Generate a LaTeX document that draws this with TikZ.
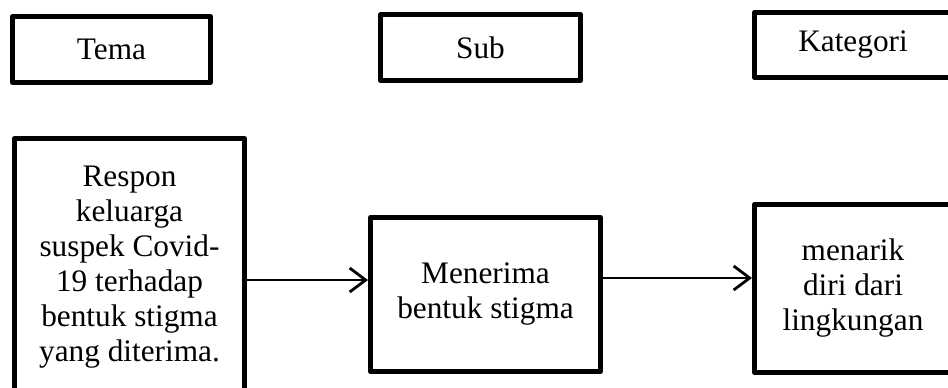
\documentclass[tikz,border=0pt]{standalone}
\usepackage{fontspec}
\setmainfont{Liberation Serif}
\usetikzlibrary{arrows.meta}
\begin{document}
\begin{tikzpicture}[x=1pt,y=-1pt,
  box/.style={draw, line width=5pt, line join=round, inner sep=0pt,
    align=center, font=\fontsize{31.3}{35}\selectfont},
  link/.style={line width=2.8pt,
    -{Straight Barb[length=16pt,width=24pt,line width=2.8pt]}}]
  \useasboundingbox (0,0) rectangle (948,388);
  \clip (0,0) rectangle (948,388);
  % header row
  \node[box, minimum width=198pt, minimum height=66pt] (tema) at (111.5,49.5) {Tema};
  \node[box, minimum width=200pt, minimum height=66pt] (sub) at (480.5,47.5) {Sub};
  \node[box, minimum width=197pt, minimum height=65pt] (kat) at (853,45) {Kategori};
  % content row
  \node[box, minimum width=230pt, minimum height=257pt] (respon) at (129.5,267)
    {Respon\\keluarga\\suspek Covid-\\19 terhadap\\bentuk stigma\\yang diterima.};
  \node[box, minimum width=230pt, minimum height=154pt] (terima) at (485.5,294.5)
    {Menerima\\bentuk stigma};
  \node[box, minimum width=197pt, minimum height=168pt] (menarik) at (853,288.5)
    {menarik\\diri dari\\lingkungan};
  % connectors
  \draw[link] ([yshift=-13pt]respon.east) -- ([yshift=14.5pt]terima.west);
  \draw[link] ([yshift=16.5pt]terima.east) -- ([yshift=10.5pt]menarik.west);
\end{tikzpicture}
\end{document}
